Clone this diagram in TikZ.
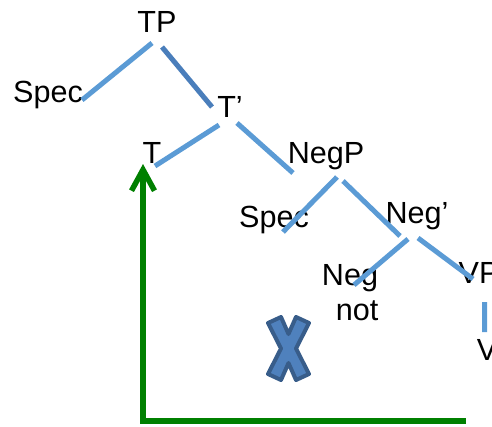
\documentclass[tikz,border=0pt]{standalone}
\usepackage{fontspec}
\setmainfont{Liberation Sans}
\usetikzlibrary{calc,arrows.meta}
\definecolor{branchblue}{RGB}{91,155,213}
\definecolor{darkbranch}{RGB}{74,126,187}
\definecolor{crossfill}{RGB}{79,129,189}
\definecolor{crossline}{RGB}{56,93,138}
\definecolor{movegreen}{RGB}{0,128,0}
\begin{document}
\begin{tikzpicture}[x=0.02cm,y=-0.02cm,
  word/.style={anchor=base, inner sep=0pt, font=\fontsize{17.4}{20}\selectfont},
  branch/.style={draw=branchblue, line width=0.1cm},
  move/.style={draw=movegreen, line width=0.11cm, -{Straight Barb[length=0.42cm, width=0.46cm]}}]
\useasboundingbox (0,0) rectangle (492,426);
\clip (0,0) rectangle (492,426);
\node[word] (tp) at (157,32) {TP};
\node[word] (spec) at (48,102) {Spec};
\node[word] (tbar) at (230,117) {T’};
\node[word] (t) at (152,163) {T};
\node[word] (negp) at (326,163) {NegP};
\node[word] (spectwo) at (274,227) {Spec};
\node[word] (negbar) at (417,223) {Neg’};
\node[word] (neg) at (350,285) {Neg};
\node[word] (nottxt) at (357,320) {not};
\node[word] (vp) at (479,283) {VP};
\node[word] (v) at (487,360) {V};
\draw[branch] ($(tp.base)+(-5,11)$) -- ($(spec.base)+(34,-2)$);
\draw[branch, draw=darkbranch] ($(tp.base)+(5,15)$) -- ($(tbar.base)+(-18,-10)$);
\draw[branch] ($(tbar.base)+(-11,8)$) -- ($(t.base)+(3,3)$);
\draw[branch] ($(tbar.base)+(7,6)$) -- ($(negp.base)+(-33,10)$);
\draw[branch] ($(negp.base)+(11,14)$) -- ($(spectwo.base)+(9,5)$);
\draw[branch] ($(negp.base)+(17,18)$) -- ($(negbar.base)+(-17,13)$);
\draw[branch] ($(negbar.base)+(-9,16)$) -- ($(neg.base)+(4,0)$);
\draw[branch] ($(negbar.base)+(1,15)$) -- ($(vp.base)+(-6,-4)$);
\draw[branch] ($(vp.base)+(5.5,19)$) -- ($(v.base)+(-2.5,-28)$);
\coordinate (bend) at (143,421);
\coordinate (gap) at (466,421);
\draw[move] (gap) -- (bend) -- ($(t.base)+(-9,1)$);
\filldraw[fill=crossfill, draw=crossline, line width=0.08cm, line join=round]
  (268,323) -- (281,317) -- (288.5,334) -- (296,317) -- (309,323) -- (296,348.5)
  -- (309,374) -- (296,380) -- (288.5,363) -- (281,380) -- (268,374) -- (281,348.5) -- cycle;
\end{tikzpicture}
\end{document}
